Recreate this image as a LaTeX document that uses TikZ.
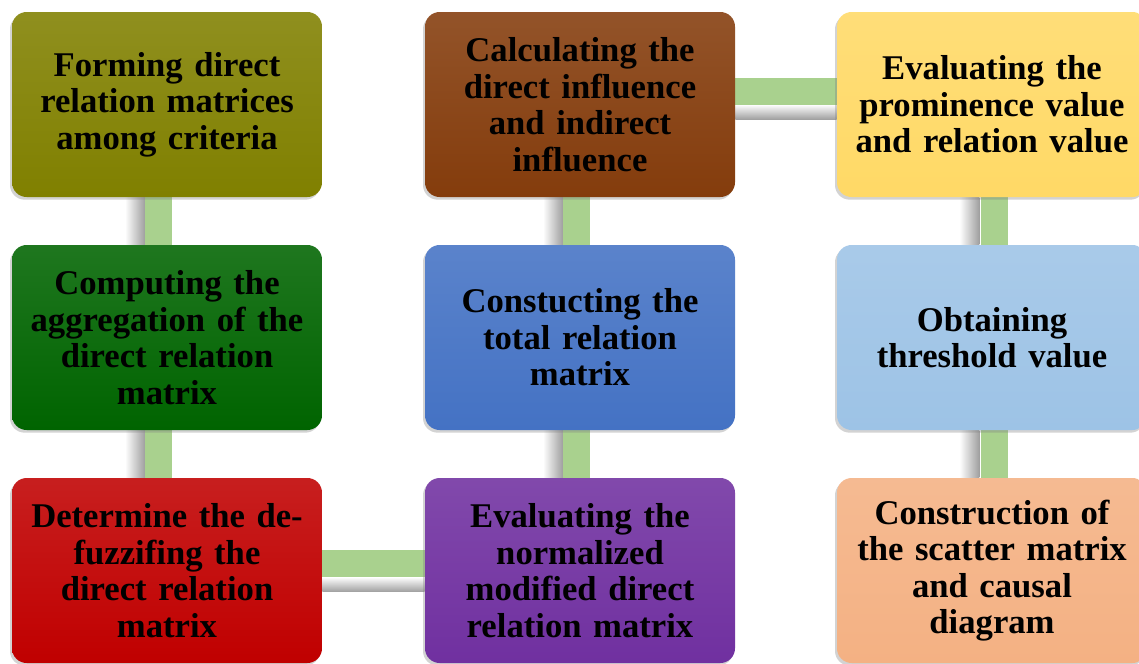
\documentclass[tikz,border=0pt]{standalone}
\usepackage{fontspec}
\setmainfont{Liberation Serif}
\usetikzlibrary{shadows,backgrounds}
\definecolor{olivebox}{RGB}{128,128,0}
\definecolor{greenbox}{RGB}{0,100,0}
\definecolor{redbox}{RGB}{192,0,0}
\definecolor{purplebox}{RGB}{112,48,160}
\definecolor{bluebox}{RGB}{68,114,196}
\definecolor{brownbox}{RGB}{132,60,12}
\definecolor{yellowbox}{RGB}{255,217,102}
\definecolor{skybox}{RGB}{157,195,230}
\definecolor{peachbox}{RGB}{244,177,131}
\definecolor{linkgreen}{RGB}{169,209,142}
\begin{document}
\begin{tikzpicture}[x=0.75pt,y=0.75pt,yscale=-1,xscale=1,
  stepbox/.style={rounded corners=11pt, minimum width=232.5pt, minimum height=138.75pt,
    text width=228pt, align=center, inner sep=0pt,
    font=\bfseries\fontsize{26}{27.4}\selectfont,
    top color=#1!88!white, middle color=#1, bottom color=#1,
    drop shadow={shadow xshift=-1.5pt, shadow yshift=-2pt, opacity=.35}},
  link/.style={line width=20.25pt, color=linkgreen},
  vshade/.style={left color=white, right color=black!38},
  hshade/.style={top color=white, bottom color=black!38}]
\useasboundingbox (0,0) rectangle (1139,664);

% boxes
\node [stepbox=olivebox] (form) at (167,104.5) {Forming direct\\relation matrices\\among criteria};
\node [stepbox=greenbox] (aggr) at (167,337.5) {Computing the\\aggregation of the\\direct relation\\matrix};
\node [stepbox=redbox] (defuzz) at (167,570.5) {Determine the de-\\fuzzifing the\\direct relation\\matrix};
\node [stepbox=purplebox] (norm) at (580,570.5) {Evaluating the\\normalized\\modified direct\\relation matrix};
\node [stepbox=bluebox] (total) at (580,337.5) {Constucting the\\total relation\\matrix};
\node [stepbox=brownbox] (infl) at (580,104.5) {Calculating the\\direct influence\\and indirect\\influence};
\node [stepbox=yellowbox] (prom) at (992,104.5) {Evaluating the\\prominence value\\and relation value};
\node [stepbox=skybox] (thresh) at (992,337.5) {Obtaining\\threshold value};
\node [stepbox=peachbox] (scatter) at (992,570.5) {Construction of\\the scatter matrix\\and causal\\diagram};

% links
\begin{scope}[on background layer]
\shade [vshade] ([xshift=-31.5pt]form.south) rectangle ([xshift=-16.5pt]aggr.north);
\shade [vshade] ([xshift=-31.5pt]aggr.south) rectangle ([xshift=-16.5pt]defuzz.north);
\shade [hshade] ([yshift=4.9pt]defuzz.east) rectangle ([yshift=16.1pt]norm.west);
\shade [vshade] ([xshift=-27.75pt]norm.north) rectangle ([xshift=-12.75pt]total.south);
\shade [vshade] ([xshift=-27.75pt]total.north) rectangle ([xshift=-12.75pt]infl.south);
\shade [hshade] ([yshift=0pt]infl.east) rectangle ([yshift=11.25pt]prom.west);
\shade [vshade] ([xshift=-24.4pt]prom.south) rectangle ([xshift=-9.4pt]thresh.north);
\shade [vshade] ([xshift=-24.4pt]thresh.south) rectangle ([xshift=-9.4pt]scatter.north);
\draw [link] ([xshift=-6.4pt]form.center) -- ([xshift=-6.4pt]aggr.center);
\draw [link] ([xshift=-6.4pt]aggr.center) -- ([xshift=-6.4pt]defuzz.center);
\draw [link] ([yshift=-5.25pt]defuzz.center) -- ([yshift=-5.25pt]norm.center);
\draw [link] ([xshift=-2.6pt]norm.center) -- ([xshift=-2.6pt]total.center);
\draw [link] ([xshift=-2.6pt]total.center) -- ([xshift=-2.6pt]infl.center);
\draw [link] ([yshift=-9.75pt]infl.center) -- ([yshift=-9.75pt]prom.center);
\draw [link] ([xshift=1.5pt]prom.center) -- ([xshift=1.5pt]thresh.center);
\draw [link] ([xshift=1.5pt]thresh.center) -- ([xshift=1.5pt]scatter.center);
\end{scope}
\end{tikzpicture}
\end{document}
